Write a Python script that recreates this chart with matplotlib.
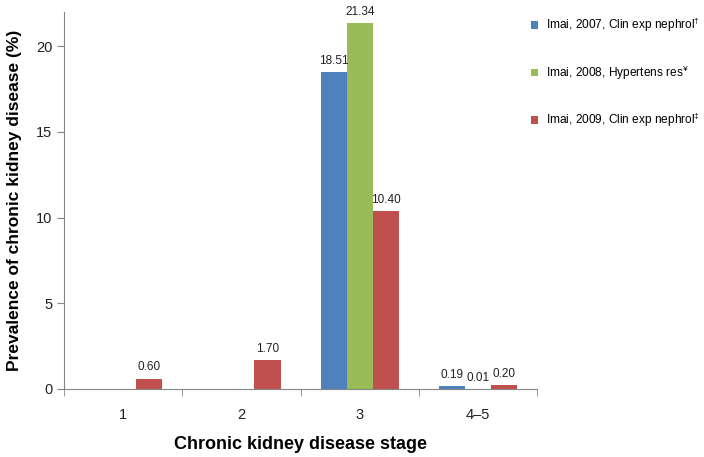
import matplotlib
matplotlib.use("Agg")
import matplotlib.pyplot as plt
import numpy as np

plt.rcParams['font.family'] = ['Liberation Sans', 'DejaVu Sans']
plt.rcParams['mathtext.fontset'] = 'custom'
plt.rcParams['mathtext.rm'] = 'Liberation Sans'

stages = ["1", "2", "3", "4\u20135"]
series_names = [r"Imai, 2007, Clin exp nephrol$^{\dagger}$",
                r"Imai, 2008, Hypertens res$^{¥}$",
                r"Imai, 2009, Clin exp nephrol$^{\ddagger}$"]
imai_2007 = [np.nan, np.nan, 18.51, 0.19]
imai_2008 = [np.nan, np.nan, 21.34, 0.01]
imai_2009 = [0.60, 1.70, 10.40, 0.20]
colors = ["#4F81BD", "#9BBB59", "#C0504D"]

fig = plt.figure(figsize=(7.04, 4.57), dpi=100)
ax = fig.add_axes([0.091, 0.149, 0.672, 0.825])

x = np.arange(len(stages))
width = 0.22
axis_gray = "#868686"
for i, (vals, name, col) in enumerate(zip([imai_2007, imai_2008, imai_2009],
                                          series_names, colors)):
    pos = x + (i - 1) * width
    ax.bar(pos, vals, width, color=col, label=name)
    for p, v in zip(pos, vals):
        if not np.isnan(v):
            ax.text(p, v + 0.3, f"{v:.2f}", ha="center", va="bottom",
                    fontsize=8.5, color="#222222")

ax.set_xlim(-0.5, 3.5)
ax.set_ylim(0, 22)
ax.set_yticks([0, 5, 10, 15, 20])
ax.set_xticks(x)
ax.set_xticklabels(stages)
ax.set_xticks(np.arange(-0.5, 4.0, 1.0), minor=True)
ax.tick_params(axis="x", which="major", length=0, pad=14, labelsize=10.5,
               colors="#222222")
ax.tick_params(axis="x", which="minor", length=5, color=axis_gray)
ax.tick_params(axis="y", length=5, color=axis_gray, labelsize=10.5,
               labelcolor="#222222")

for s in ["top", "right"]:
    ax.spines[s].set_visible(False)
for s in ["left", "bottom"]:
    ax.spines[s].set_color(axis_gray)

ax.set_ylabel("Prevalence of chronic kidney disease (%)", fontsize=12.5,
              fontweight="bold", labelpad=10)
ax.set_xlabel("Chronic kidney disease stage", fontsize=13, fontweight="bold",
              labelpad=10)

fig.legend(loc="upper left", bbox_to_anchor=(0.747, 0.975), frameon=False,
           fontsize=8.6, handlelength=0.6, handleheight=0.6, handletextpad=0.7,
           labelspacing=2.45, borderaxespad=0)

fig.savefig("out.png", dpi=100)
